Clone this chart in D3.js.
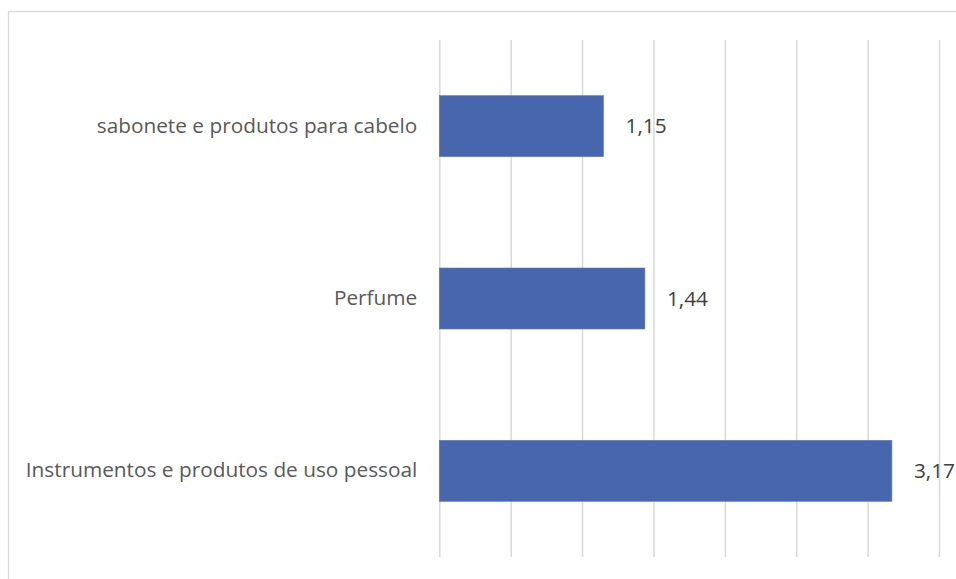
<!DOCTYPE html>
<html>
<head>
<meta charset="utf-8">
<script src="https://cdn.jsdelivr.net/npm/d3@7"></script>
<style>
  html, body { margin: 0; padding: 0; background: #fff; }
  svg { display: block; }
</style>
</head>
<body>
<svg id="chart" width="956" height="579"></svg>
<script>
// Categories, top to bottom, and their values
const categories = [
  "sabonete e produtos para cabelo",
  "Perfume",
  "Instrumentos e produtos de uso pessoal"
];
const values = [1.15, 1.44, 3.17];
const xTicks = [0, 0.5, 1, 1.5, 2, 2.5, 3, 3.5];

const svg = d3.select("#chart");
const W = 956, H = 579;
const plot = { left: 439.3, right: 939, top: 40, bottom: 557 };
const font = "'Open Sans', sans-serif";
const fontSize = "20.8px";

// Chart area frame (runs past right and bottom edges of the page)
svg.append("rect")
  .attr("x", 8.5).attr("y", 11.5)
  .attr("width", W + 20).attr("height", H + 20)
  .attr("fill", "#fff")
  .attr("stroke", "#d9d9d9").attr("stroke-width", 1.3);

const x = d3.scaleLinear().domain([0, 3.5]).range([plot.left, plot.right]);
const y = d3.scaleBand().domain(categories)
  .range([plot.top, plot.bottom])
  .paddingInner(0.646).paddingOuter(0.323);

// Vertical gridlines
const xAxis = d3.axisBottom(x).tickValues(xTicks)
  .tickSize(-(plot.bottom - plot.top)).tickFormat("");
const gx = svg.append("g")
  .attr("transform", `translate(0,${plot.bottom})`)
  .call(xAxis);
gx.select(".domain").remove();
gx.selectAll(".tick line").attr("stroke", "#d9d9d9").attr("stroke-width", 1.5);

// Bars
svg.append("g").selectAll("rect")
  .data(categories)
  .join("rect")
  .attr("x", x(0))
  .attr("y", d => y(d))
  .attr("width", (d, i) => x(values[i]) - x(0))
  .attr("height", y.bandwidth())
  .attr("fill", "#4866ad")
  .attr("stroke", "#5a78bd").attr("stroke-width", 0.6);

// Category labels
const yAxis = d3.axisLeft(y).tickSize(0).tickPadding(22);
const gy = svg.append("g")
  .attr("transform", `translate(${plot.left},0)`)
  .call(yAxis);
gy.select(".domain").remove();
gy.selectAll(".tick text")
  .attr("fill", "#595959")
  .style("font-family", font)
  .style("font-size", fontSize);

// Value labels
const fmt = v => d3.format(".2f")(v).replace(".", ",");
svg.append("g").selectAll("text")
  .data(categories)
  .join("text")
  .attr("x", (d, i) => x(values[i]) + 22)
  .attr("y", d => y(d) + y.bandwidth() / 2)
  .attr("dy", "0.35em")
  .attr("fill", "#404040")
  .style("font-family", font)
  .style("font-size", fontSize)
  .text((d, i) => fmt(values[i]));
</script>
</body>
</html>
